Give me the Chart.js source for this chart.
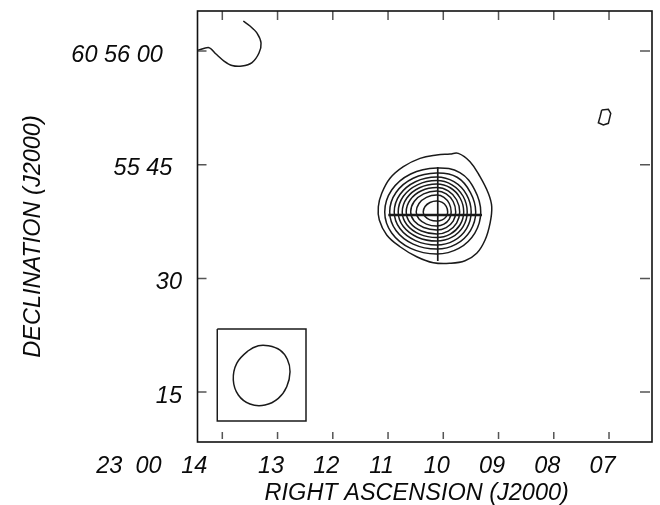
<!DOCTYPE html>
<html>
<head>
<meta charset="utf-8">
<script src="https://cdn.jsdelivr.net/npm/chart.js@4/dist/chart.umd.min.js"></script>
<style>
  body { margin: 0; background: #fff; }
  #wrap { width: 660px; height: 505px; }
</style>
</head>
<body>
<div id="wrap"><canvas id="map"></canvas></div>
<script>
// ── axes: RA in seconds past 23h00m, Dec in arcsec past 60°55' ──
const raTicks = [14, 13, 12, 11, 10, 9, 8, 7];
const raLabels = ['23  00   14', '13', '12', '11', '10', '09', '08', '07'];
const decTicks = [60, 45, 30, 15];
const decLabels = ['60 56 00', '55 45', '30', '15'];
const raRange = [6.222, 14.449];
const decRange = [8.42, 65.28];

// ── contours of the source, outermost first ──
const outerRa = [9.728, 9.516, 9.335, 9.185, 9.123, 9.154, 9.244, 9.395, 9.606, 9.878, 10.180, 10.481, 10.783, 11.024, 11.158, 11.176, 11.114, 10.964, 10.723, 10.421, 10.119, 9.878];
const outerDec = [46.50, 45.40, 43.42, 41.23, 39.46, 37.27, 35.07, 33.31, 32.33, 31.99, 32.07, 32.86, 34.18, 35.73, 37.70, 39.46, 41.23, 43.21, 44.74, 45.84, 46.28, 46.41];
const ring1Ra = [9.322, 9.429, 9.700, 10.119, 10.590, 10.934, 11.060, 10.934, 10.590, 10.119, 9.720, 9.429];
const ring1Dec = [38.76, 41.66, 43.95, 44.56, 43.78, 41.66, 38.76, 35.99, 33.96, 33.22, 33.96, 35.99];
const ring2Ra = [9.413, 9.508, 9.750, 10.119, 10.545, 10.856, 10.970, 10.856, 10.545, 10.119, 9.766, 9.508];
const ring2Dec = [38.76, 41.33, 43.35, 43.90, 43.21, 41.33, 38.76, 36.32, 34.53, 33.88, 34.53, 36.32];
const ring3Ra = [9.495, 9.579, 9.807, 10.119, 10.504, 10.785, 10.888, 10.785, 10.504, 10.119, 9.807, 9.579];
const ring3Dec = [38.76, 41.07, 42.76, 43.38, 42.76, 41.07, 38.76, 36.58, 34.99, 34.41, 34.99, 36.58];
const ring4Ra = [9.567, 9.641, 9.843, 10.119, 10.468, 10.723, 10.816, 10.723, 10.468, 10.119, 9.843, 9.641];
const ring4Dec = [38.76, 40.84, 42.35, 42.91, 42.35, 40.84, 38.76, 36.84, 35.44, 34.93, 35.44, 36.84];
const ring5Ra = [9.630, 9.696, 9.874, 10.119, 10.431, 10.659, 10.743, 10.659, 10.431, 10.119, 9.874, 9.696];
const ring5Dec = [38.76, 40.61, 41.96, 42.45, 41.96, 40.61, 38.76, 37.08, 35.85, 35.40, 35.85, 37.08];
const ring6Ra = [9.703, 9.759, 9.911, 10.119, 10.395, 10.597, 10.671, 10.597, 10.395, 10.119, 9.911, 9.759];
const ring6Dec = [38.76, 40.38, 41.56, 41.99, 41.56, 40.38, 38.76, 37.31, 36.25, 35.86, 36.25, 37.31];
const ring7Ra = [9.775, 9.821, 9.947, 10.119, 10.355, 10.527, 10.590, 10.527, 10.355, 10.119, 9.947, 9.821];
const ring7Dec = [38.76, 40.15, 41.16, 41.53, 41.16, 40.15, 38.76, 37.57, 36.71, 36.39, 36.71, 37.57];
const ring8Ra = [9.857, 9.892, 9.988, 10.119, 10.305, 10.440, 10.490, 10.440, 10.305, 10.119, 9.988, 9.892];
const ring8Dec = [38.76, 39.88, 40.70, 41.00, 40.70, 39.88, 38.76, 37.83, 37.16, 36.91, 37.16, 37.83];
const ring9Ra = [9.920, 9.947, 10.019, 10.119, 10.241, 10.330, 10.363, 10.330, 10.241, 10.119, 10.019, 9.947];
const ring9Dec = [38.76, 39.49, 40.02, 40.21, 40.02, 39.49, 38.76, 38.16, 37.73, 37.57, 37.73, 38.16];

// ── other features ──
const cornerRa = [14.449, 14.241, 14.114, 13.969, 13.824, 13.643, 13.462, 13.336, 13.299, 13.372, 13.499, 13.620];
const cornerDec = [60.07, 60.44, 59.60, 58.68, 58.09, 58.02, 58.48, 59.74, 61.06, 62.37, 63.30, 63.96];
const blobRa = [7.132, 7.012, 6.969, 7.012, 7.103, 7.193, 7.162];
const blobDec = [52.22, 52.31, 51.78, 50.46, 50.24, 50.54, 51.33];
const beamRa = [13.167, 12.955, 12.823, 12.774, 12.834, 12.986, 13.227, 13.499, 13.710, 13.801, 13.739, 13.529, 13.348];
const beamDec = [21.12, 20.55, 19.33, 17.69, 15.71, 14.18, 13.30, 13.43, 14.62, 16.60, 18.80, 20.46, 21.12];
const boxRa = [14.091, 12.485, 12.485, 14.091, 14.091];
const boxDec = [23.32, 23.32, 11.19, 11.19, 23.32];
const crossHRa = [10.995, 9.299], crossHDec = [38.36, 38.36];
const crossVRa = [10.10, 10.10], crossVDec = [44.70, 32.30];

const INK = '#1a1a1a';
const FONT = 'italic 23.5px "Liberation Sans", Arial, sans-serif';

const pts = (ra, dec) => ra.map((v, i) => ({ x: v, y: dec[i] }));

function path(ra, dec, opts = {}) {
    return Object.assign({
        data: pts(ra, dec),
        showLine: true,
        pointRadius: 0,
        borderColor: INK,
        borderWidth: 1.5,
        tension: 0
    }, opts);
}

// closed contour: wrap a point on each side so the spline joins smoothly, hide the two wrap segments
function ring(ra, dec, tension = 0.4) {
    const p = pts(ra, dec);
    const data = [p[p.length - 1], ...p, p[0], p[1]];
    return path(ra, dec, {
        data,
        tension,
        segment: {
            borderColor: c => (c.p0DataIndex === 0 || c.p1DataIndex === data.length - 1) ? 'rgba(0,0,0,0)' : undefined
        }
    });
}

// ── frame, inward ticks, labels ──
const mapFrame = {
    id: 'mapFrame',
    afterDraw(chart) {
        const { ctx, chartArea: a, scales: { x, y } } = chart;
        ctx.save();
        ctx.strokeStyle = '#555';
        ctx.lineWidth = 1.5;
        ctx.beginPath();
        raTicks.forEach(v => {
            const px = x.getPixelForValue(v);
            ctx.moveTo(px, a.top); ctx.lineTo(px, a.top + 9);
            ctx.moveTo(px, a.bottom - 3); ctx.lineTo(px, a.bottom - 10);
        });
        decTicks.forEach(v => {
            const py = y.getPixelForValue(v);
            ctx.moveTo(a.left, py); ctx.lineTo(a.left + 9, py);
            ctx.moveTo(a.right - 2, py); ctx.lineTo(a.right - 12, py);
        });
        ctx.stroke();

        ctx.strokeStyle = '#111';
        ctx.lineWidth = 1.6;
        ctx.strokeRect(a.left, a.top, a.right - a.left, a.bottom - a.top);

        ctx.fillStyle = '#0a0a0a';
        ctx.font = FONT;
        ctx.textBaseline = 'alphabetic';
        raTicks.forEach((v, i) => {
            const px = x.getPixelForValue(v);
            if (i === 0) {
                ctx.textAlign = 'right';
                ctx.fillText(raLabels[i], px - 15, a.bottom + 31);
            } else {
                ctx.textAlign = 'center';
                ctx.fillText(raLabels[i], px - 6.5, a.bottom + 31);
            }
        });
        ctx.textAlign = 'right';
        decTicks.forEach((v, i) => {
            const s = decLabels[i];
            ctx.fillText(s, a.left - 15.5 - (s.length - 2) * 3.2, y.getPixelForValue(v) + 10.5);
        });

        ctx.textAlign = 'center';
        ctx.fillText('RIGHT ASCENSION (J2000)', (a.left + a.right) / 2 - 8, a.bottom + 58);
        ctx.translate(40, (a.top + a.bottom) / 2 + 10);
        ctx.rotate(-Math.PI / 2);
        ctx.fillText('DECLINATION (J2000)', 0, 0);
        ctx.restore();
    }
};

new Chart(document.getElementById('map'), {
    type: 'scatter',
    data: {
        datasets: [
            ring(outerRa, outerDec),
            ring(ring1Ra, ring1Dec),
            ring(ring2Ra, ring2Dec),
            ring(ring3Ra, ring3Dec),
            ring(ring4Ra, ring4Dec),
            ring(ring5Ra, ring5Dec),
            ring(ring6Ra, ring6Dec),
            ring(ring7Ra, ring7Dec),
            ring(ring8Ra, ring8Dec),
            ring(ring9Ra, ring9Dec),
            path(cornerRa, cornerDec, { tension: 0.3 }),
            ring(blobRa, blobDec, 0),
            ring(beamRa, beamDec),
            path(boxRa, boxDec),
            path(crossHRa, crossHDec, { borderWidth: 2.4 }),
            path(crossVRa, crossVDec, { borderWidth: 1.7 })
        ]
    },
    options: {
        responsive: true,
        maintainAspectRatio: false,
        animation: false,
        layout: { padding: { left: 197.5, right: 8, top: 11, bottom: 63 } },
        plugins: { legend: { display: false }, tooltip: { enabled: false } },
        scales: {
            x: { type: 'linear', reverse: true, min: raRange[0], max: raRange[1], display: false },
            y: { type: 'linear', min: decRange[0], max: decRange[1], display: false }
        }
    },
    plugins: [mapFrame]
});
</script>
</body>
</html>
